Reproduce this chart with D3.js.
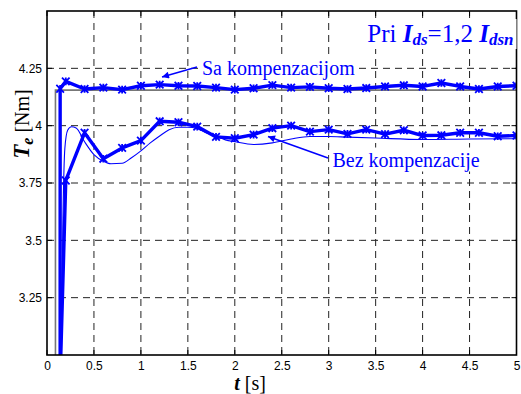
<!DOCTYPE html>
<html lang="sr">
<head>
<meta charset="UTF-8">
<title>Te sa i bez kompenzacije</title>
<script src="https://cdnjs.cloudflare.com/ajax/libs/d3/7.8.5/d3.min.js"></script>
<style>
  body { margin: 0; background: #fff; }
  .tick text { font: 12px "Liberation Sans", Arial, sans-serif; fill: #000; }
  .serif { font-family: "Liberation Serif", "Times New Roman", serif; }
</style>
</head>
<body>
<div id="chart"></div>
<script>
// podaci
const xTicks = [0, 0.5, 1, 1.5, 2, 2.5, 3, 3.5, 4, 4.5, 5];
const yTicks = [3.25, 3.5, 3.75, 4, 4.25];
const yTickLabels = ["3.25", "3.5", "3.75", "4", "4.25"];

// Sa kompenzacijom (markeri na svakih 0.2 s)
const compT = [0.14, 0.14, 0.2, 0.4, 0.6, 0.8, 1.0, 1.2, 1.4, 1.6, 1.8, 2.0, 2.2, 2.4, 2.6, 2.8, 3.0, 3.2, 3.4, 3.6, 3.8, 4.0, 4.2, 4.4, 4.6, 4.8, 5.0];
const compV = [2.0, 4.161, 4.193, 4.160, 4.166, 4.157, 4.174, 4.179, 4.174, 4.173, 4.166, 4.157, 4.163, 4.177, 4.166, 4.169, 4.163, 4.160, 4.164, 4.171, 4.176, 4.171, 4.186, 4.171, 4.160, 4.171, 4.174];

// Bez kompenzacije (markeri)
const noCompT = [0.14, 0.2, 0.4, 0.6, 0.8, 1.0, 1.2, 1.4, 1.6, 1.8, 2.0, 2.2, 2.4, 2.6, 2.8, 3.0, 3.2, 3.4, 3.6, 3.8, 4.0, 4.2, 4.4, 4.6, 4.8, 5.0];
const noCompV = [2.9, 3.761, 3.969, 3.856, 3.903, 3.935, 4.019, 4.015, 3.996, 3.951, 3.945, 3.961, 3.989, 4.000, 3.974, 3.983, 3.964, 3.983, 3.963, 3.980, 3.957, 3.958, 3.969, 3.969, 3.954, 3.957];

// tanka linija (bez markera)
const thinT = [0.14, 0.17, 0.19, 0.22, 0.26, 0.31, 0.4, 0.5, 0.6, 0.68, 0.8, 0.9, 1.0, 1.1, 1.2, 1.3, 1.4, 1.5, 1.6, 1.7, 1.8, 1.9, 2.0, 2.2, 2.4, 2.6, 2.8, 3.0, 3.2, 3.5, 4.0, 4.5, 5.0];
const thinV = [2.5, 3.6, 3.9, 3.98, 3.995, 3.99, 3.93, 3.874, 3.845, 3.834, 3.836, 3.86, 3.89, 3.925, 3.955, 3.982, 3.993, 3.993, 3.987, 3.968, 3.955, 3.938, 3.93, 3.918, 3.925, 3.942, 3.953, 3.953, 3.95, 3.946, 3.94, 3.942, 3.943];

// referenca (siva stepenasta linija)
const refT = [0.09, 0.09, 5];
const refV = [3.0, 4.155, 4.155];

const width = 521, height = 394;
const margin = { top: 11, right: 4.5, bottom: 39, left: 47 };
const iw = width - margin.left - margin.right;
const ih = height - margin.top - margin.bottom;
const blue = "#0000ff";

const svg = d3.select("#chart").append("svg")
    .attr("width", width)
    .attr("height", height);

const g = svg.append("g")
    .attr("transform", `translate(${margin.left},${margin.top})`);

const x = d3.scaleLinear().domain([0, 5]).range([0, iw]);
const y = d3.scaleLinear().domain([3, 4.5]).range([ih, 0]);

g.append("clipPath").attr("id", "clip")
  .append("rect").attr("width", iw).attr("height", ih);

// mreža
g.selectAll(".vgrid").data(xTicks.slice(1, -1)).join("line")
    .attr("x1", d => x(d)).attr("x2", d => x(d))
    .attr("y1", 0).attr("y2", ih)
    .attr("stroke", "#222").attr("stroke-width", 1)
    .attr("stroke-dasharray", "7,5");
g.selectAll(".hgrid").data(yTicks).join("line")
    .attr("x1", 0).attr("x2", iw)
    .attr("y1", d => y(d)).attr("y2", d => y(d))
    .attr("stroke", "#222").attr("stroke-width", 1)
    .attr("stroke-dasharray", "7,5");

// ose
const xAxis = d3.axisBottom(x).tickValues(xTicks).tickSize(0).tickPadding(6)
    .tickFormat(d3.format("~g"));
g.append("g").attr("transform", `translate(0,${ih})`).call(xAxis)
    .call(a => a.select(".domain").remove());

const yAxis = d3.axisLeft(y).tickValues(yTicks).tickSize(0).tickPadding(5)
    .tickFormat((d, i) => yTickLabels[i]);
g.append("g").call(yAxis)
    .call(a => a.select(".domain").remove());

// unutrašnji podeoci
const tl = 5;
xTicks.forEach(t => {
  g.append("line").attr("x1", x(t)).attr("x2", x(t)).attr("y1", ih).attr("y2", ih - tl).attr("stroke", "#000");
  g.append("line").attr("x1", x(t)).attr("x2", x(t)).attr("y1", 0).attr("y2", tl).attr("stroke", "#000");
});
yTicks.forEach(v => {
  g.append("line").attr("x1", 0).attr("x2", tl).attr("y1", y(v)).attr("y2", y(v)).attr("stroke", "#000");
  g.append("line").attr("x1", iw).attr("x2", iw - tl).attr("y1", y(v)).attr("y2", y(v)).attr("stroke", "#000");
});

const plot = g.append("g").attr("clip-path", "url(#clip)");
const line = d3.line().x(d => x(d[0])).y(d => y(d[1]));

const refData = refT.map((t, i) => [t, refV[i]]);
const compData = compT.map((t, i) => [t, compV[i]]);
const noCompData = noCompT.map((t, i) => [t, noCompV[i]]);
const thinData = thinT.map((t, i) => [t, thinV[i]]);

plot.append("path").datum(refData).attr("d", line)
    .attr("fill", "none").attr("stroke", "#777").attr("stroke-width", 1.6);

plot.append("path").datum(thinData).attr("d", d3.line().curve(d3.curveMonotoneX).x(d => x(d[0])).y(d => y(d[1])))
    .attr("fill", "none").attr("stroke", blue).attr("stroke-width", 1.1);

[compData, noCompData].forEach(data => {
  plot.append("path").datum(data).attr("d", line)
      .attr("fill", "none").attr("stroke", blue).attr("stroke-width", 3.4)
      .attr("stroke-linejoin", "round");
  const s = 3.8;
  plot.selectAll(null).data(data).join("path")
      .attr("transform", d => `translate(${x(d[0])},${y(d[1])})`)
      .attr("d", `M${-s},${-s}L${s},${s}M${-s},${s}L${s},${-s}M0,${-s}L0,${s}`)
      .attr("stroke", blue).attr("stroke-width", 1.8).attr("fill", "none");
});

// okvir
g.append("rect").attr("width", iw).attr("height", ih)
    .attr("fill", "none").attr("stroke", "#000").attr("stroke-width", 1.6);

// strelice
const defs = svg.append("defs");
defs.append("marker").attr("id", "arr")
    .attr("viewBox", "0 0 10 10").attr("refX", 10).attr("refY", 5)
    .attr("markerWidth", 9).attr("markerHeight", 7).attr("markerUnits", "userSpaceOnUse")
    .attr("orient", "auto")
  .append("path").attr("d", "M0,0L10,5L0,10z").attr("fill", blue);

function label(px, py, anchor) {
  const grp = svg.append("g");
  const bg = grp.append("rect").attr("fill", "#fff");
  const t = grp.append("text").attr("class", "serif")
      .attr("x", px).attr("y", py).attr("font-size", 20)
      .attr("fill", blue).attr("text-anchor", anchor || "start");
  return { grp, bg, t };
}
function fitBg(o, pad) {
  const b = o.t.node().getBBox();
  o.bg.attr("x", b.x - pad).attr("y", b.y - 1).attr("width", b.width + 2 * pad).attr("height", b.height + 1);
}

const sa = label(202, 74.5);
sa.t.text("Sa kompenzacijom");
fitBg(sa, 2);
svg.append("line").attr("x1", 197).attr("y1", 67).attr("x2", 162).attr("y2", 77)
    .attr("stroke", blue).attr("stroke-width", 1.5).attr("marker-end", "url(#arr)");

const bez = label(332.5, 166.5);
bez.t.text("Bez kompenzacije");
fitBg(bez, 3);
svg.append("line").attr("x1", 328).attr("y1", 158).attr("x2", 268).attr("y2", 136.5)
    .attr("stroke", blue).attr("stroke-width", 1.5).attr("marker-end", "url(#arr)");

const pri = label(513.5, 42, "end");
pri.t.attr("font-size", 25);
pri.t.append("tspan").text("Pri ");
pri.t.append("tspan").attr("font-weight", "bold").attr("font-style", "italic").text("I");
pri.t.append("tspan").attr("font-weight", "bold").attr("font-style", "italic").attr("font-size", 17).attr("dy", 3).text("ds");
pri.t.append("tspan").attr("dy", -3).text("=1,2 ");
pri.t.append("tspan").attr("font-weight", "bold").attr("font-style", "italic").text("I");
pri.t.append("tspan").attr("font-weight", "bold").attr("font-style", "italic").attr("font-size", 17).attr("dy", 3).text("dsn");
fitBg(pri, 3);

// naslovi osa
const yl = svg.append("text").attr("class", "serif")
    .attr("transform", "translate(29,124) rotate(-90)")
    .attr("text-anchor", "middle").attr("fill", "#000");
yl.append("tspan").attr("font-size", 23).attr("font-weight", "bold").attr("font-style", "italic").text("T");
yl.append("tspan").attr("font-size", 16).attr("font-weight", "bold").attr("font-style", "italic").attr("dy", 4).text("e");
yl.append("tspan").attr("font-size", 20).attr("dy", -4).text(" [Nm]");

const xl = svg.append("text").attr("class", "serif")
    .attr("x", 250).attr("y", 389.5).attr("text-anchor", "middle").attr("fill", "#000");
xl.append("tspan").attr("font-size", 20).attr("font-weight", "bold").attr("font-style", "italic").text("t");
xl.append("tspan").attr("font-size", 20).text(" [s]");
</script>
</body>
</html>
